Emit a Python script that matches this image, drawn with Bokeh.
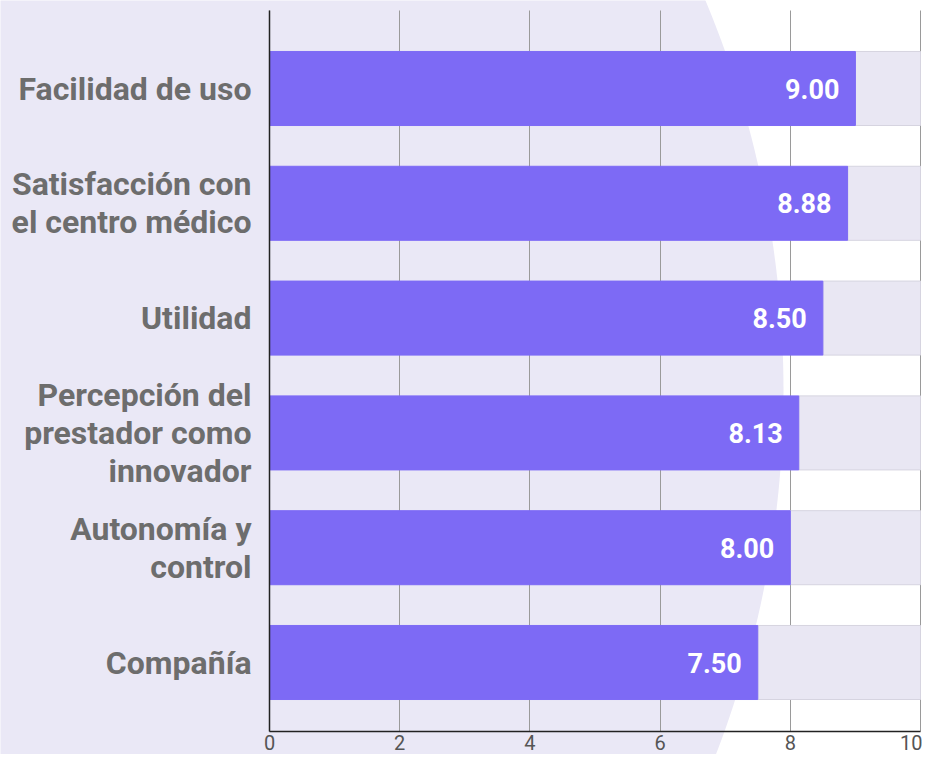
import numpy as np
from bokeh.plotting import figure
from bokeh.models import Range1d, FixedTicker, PolyAnnotation, ColumnDataSource
from bokeh.core.properties import value
from bokeh.embed import file_html
from bokeh.resources import INLINE

# ---- data ----
categories = ["Facilidad de uso",
              "Satisfacción con\nel centro médico",
              "Utilidad",
              "Percepción del\nprestador como\ninnovador",
              "Autonomía y\ncontrol",
              "Compañía"]
scores = [9.00, 8.88, 8.50, 8.13, 8.00, 7.50]
scale_max = 10
x_ticks = [0, 2, 4, 6, 8, 10]

idx = list(range(len(categories)))
src = ColumnDataSource(dict(
    y=idx,
    score=scores,
    full=[scale_max] * len(scores),
    label=[f"{v:.2f}" for v in scores],
))

PURPLE = "#7D6AF5"
LAVENDER = "#EAE8F6"
REST = "#E9E7F3"

W, H = 922, 754
# pixel layout (canvas coords, y down)
X0PX, SX = 269, 65.1        # pixel of x=0, px per unit
Y0PX, SY = 88, 114.8        # pixel of first bar centre, px per category
TOP_PX, AXIS_PX = 10, 731   # top of plot area, x-axis line

def dx(px):
    return (px - X0PX) / SX

def dy(py):
    return (py - Y0PX) / SY

p = figure(width=W, height=H,
           x_range=Range1d(dx(0), dx(W)), y_range=Range1d(dy(H), dy(0)),
           output_backend="svg", toolbar_location=None,
           min_border=0, min_border_left=0, min_border_right=0,
           min_border_top=0, min_border_bottom=0,
           background_fill_color="white", border_fill_color="white",
           outline_line_color=None)

# decorative lavender circle (background)
cxp, cyp, r = -231, 390, 1014
t = np.linspace(0, 2 * np.pi, 500)
circ = PolyAnnotation(xs=list(dx(cxp + r * np.cos(t))),
                      ys=list(dy(cyp + r * np.sin(t))),
                      fill_color=LAVENDER, fill_alpha=1.0,
                      line_color=None, level="image")
p.add_layout(circ)

# grid lines
p.ygrid.grid_line_color = None
p.xgrid.ticker = FixedTicker(ticks=x_ticks)
p.xgrid.grid_line_color = "#9A9A9A"
p.xgrid.grid_line_width = 1
try:
    p.xgrid.cross_bounds = (dy(TOP_PX), dy(AXIS_PX))
except Exception:
    p.xgrid.grid_line_color = None
    p.segment(x0=x_ticks[1:], x1=x_ticks[1:],
              y0=[dy(TOP_PX)] * (len(x_ticks) - 1),
              y1=[dy(AXIS_PX)] * (len(x_ticks) - 1),
              line_color="#9A9A9A", line_width=1)

# bars
p.hbar(y="y", left="score", right="full", height=0.645, source=src,
       fill_color=REST, line_color="#D6D4E0", line_width=1)
p.hbar(y="y", left=0, right="score", height=0.645, source=src,
       fill_color=PURPLE, line_color=PURPLE, line_width=1)

p.text(x="score", y="y", text="label", source=src, x_offset=-16,
       text_align="right", text_baseline="middle", text_color="white",
       text_font=value("Roboto"), text_font_style="bold",
       text_font_size="27px")

# axes (drawn at fixed locations inside the full-canvas frame)
xa = p.xaxis[0]
xa.fixed_location = dy(AXIS_PX)
xa.bounds = (0, scale_max)
xa.ticker = FixedTicker(ticks=x_ticks)
xa.major_label_text_font = "Roboto"
xa.major_label_text_font_size = "20px"
xa.major_label_text_color = "#555555"
xa.major_label_standoff = 3
xa.major_tick_out = 0
xa.major_tick_in = 0
xa.minor_tick_line_color = None
xa.axis_line_color = "#222222"
xa.axis_line_width = 1.5

ya = p.yaxis[0]
ya.fixed_location = 0
ya.bounds = (dy(TOP_PX), dy(AXIS_PX))
ya.ticker = FixedTicker(ticks=idx)
ya.major_label_overrides = {i: c for i, c in zip(idx, categories)}
ya.major_label_text_font = "Roboto"
ya.major_label_text_font_style = "bold"
ya.major_label_text_font_size = "32px"
ya.major_label_text_color = "#6D6D6D"
ya.major_label_text_line_height = 1.0
ya.major_label_standoff = 18
ya.major_tick_out = 0
ya.major_tick_in = 0
ya.minor_tick_line_color = None
ya.axis_line_color = "#222222"
ya.axis_line_width = 1.5

open("out.html", "w").write(file_html(p, INLINE))
